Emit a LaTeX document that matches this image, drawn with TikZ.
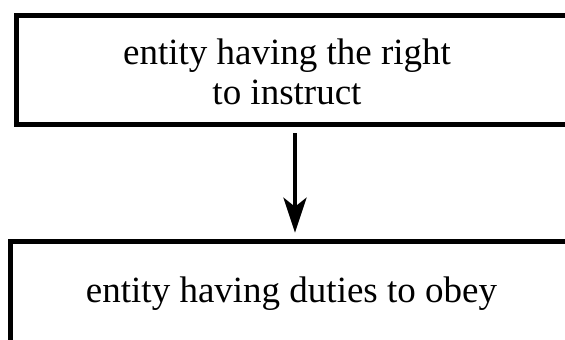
\documentclass[tikz,border=0pt]{standalone}
\usepackage{fontspec}
\setmainfont{Liberation Serif}
\usetikzlibrary{arrows.meta}
\begin{document}
\begin{tikzpicture}[x=1pt,y=1pt,
  boxstyle/.style={draw=black, line width=5.5pt, rectangle, inner sep=0pt},
  labelstyle/.style={font=\fontsize{37}{40}\selectfont, align=center, inner sep=0pt},
  arrowstyle/.style={line width=4.5pt, -{Stealth[length=35pt, width=23pt, inset=9pt]}}]
\useasboundingbox (0,0) rectangle (565,340);
\clip (0,0) rectangle (565,340);
% top box: left 16.5, top 324.5, bottom 215.5, right beyond
\node[boxstyle, minimum width=583.5pt, minimum height=109pt] (top) at (308.25,270) {};
% bottom box: left 10.5, top 98.5, extends beyond
\node[boxstyle, minimum width=600pt, minimum height=150pt] (bot) at (310.5,23.5) {};
\node[labelstyle, anchor=base] (toptext) at (287,235) {entity having the right\\to instruct};
\node[labelstyle, anchor=base] (bottext) at (291.5,37) {entity having duties to obey};
\coordinate (ax) at (295,0);
\draw[arrowstyle, shorten <=6pt, shorten >=6pt] (top.south -| ax) -- (bot.north -| ax);
\end{tikzpicture}
\end{document}
